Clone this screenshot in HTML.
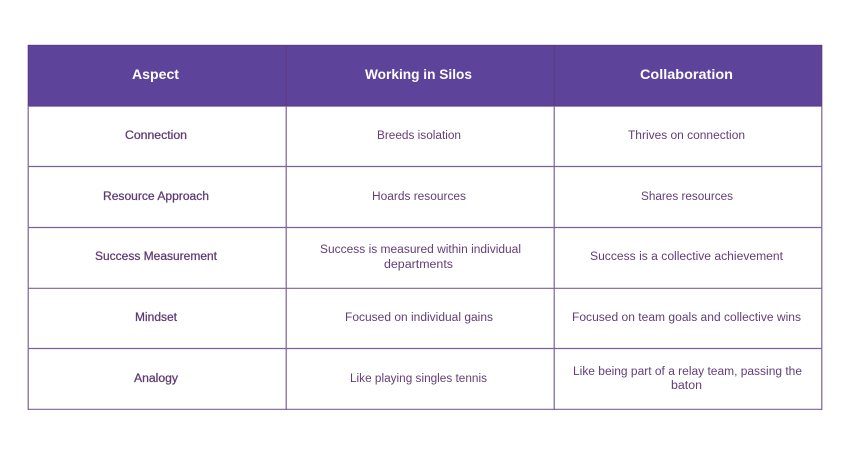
<!DOCTYPE html>
<html><head><meta charset="utf-8">
<style>
html,body{margin:0;padding:0;background:#fff;width:850px;height:450px;overflow:hidden}
svg{display:block}
text{font-family:"Liberation Sans",sans-serif;text-anchor:start}
.h{font-size:14px;font-weight:700;fill:#fff}
.b{font-size:11.5px;fill:#633d78}
.s{font-size:11.5px;fill:#5e3a74;stroke:#5e3a74;stroke-width:.25px}
</style></head><body>
<svg width="850" height="450" viewBox="0 0 850 450" xmlns="http://www.w3.org/2000/svg">
<rect width="850" height="450" fill="#fff"/>
<rect x="28" y="45" width="794" height="61" fill="#5e439a"/>
<g stroke="#5f3a7f" stroke-width="1.2" fill="none" opacity=".8">
<line x1="28.2" y1="45" x2="28.2" y2="410"/>
<line x1="286.2" y1="45" x2="286.2" y2="410"/>
<line x1="554.2" y1="45" x2="554.2" y2="410"/>
<line x1="821.8" y1="45" x2="821.8" y2="410"/>
<line x1="28" y1="45.3" x2="822" y2="45.3"/>
<line x1="28" y1="106.2" x2="822" y2="106.2"/>
<line x1="28" y1="166.5" x2="822" y2="166.5"/>
<line x1="28" y1="227.5" x2="822" y2="227.5"/>
<line x1="28" y1="288.3" x2="822" y2="288.3"/>
<line x1="28" y1="348.5" x2="822" y2="348.5"/>
<line x1="28" y1="409.3" x2="822" y2="409.3"/>
</g>
<text class="h" x="132" y="79" textLength="47" lengthAdjust="spacingAndGlyphs">Aspect</text>
<text class="h" x="365" y="79" textLength="107" lengthAdjust="spacingAndGlyphs">Working in Silos</text>
<text class="h" x="640" y="79" textLength="93" lengthAdjust="spacingAndGlyphs">Collaboration</text>

<text class="s" x="125" y="139" textLength="62" lengthAdjust="spacingAndGlyphs">Connection</text>
<text class="s" x="103" y="200" textLength="106" lengthAdjust="spacingAndGlyphs">Resource Approach</text>
<text class="s" x="95" y="260" textLength="122" lengthAdjust="spacingAndGlyphs">Success Measurement</text>
<text class="s" x="135" y="321" textLength="42" lengthAdjust="spacingAndGlyphs">Mindset</text>
<text class="s" x="134" y="382" textLength="44" lengthAdjust="spacingAndGlyphs">Analogy</text>

<text class="b" x="377" y="139" textLength="84" lengthAdjust="spacingAndGlyphs">Breeds isolation</text>
<text class="b" x="372" y="200" textLength="94" lengthAdjust="spacingAndGlyphs">Hoards resources</text>
<text class="b" x="320" y="253" textLength="201" lengthAdjust="spacingAndGlyphs">Success is measured within individual</text>
<text class="b" x="384" y="268" textLength="69" lengthAdjust="spacingAndGlyphs">departments</text>
<text class="b" x="345" y="321" textLength="148" lengthAdjust="spacingAndGlyphs">Focused on individual gains</text>
<text class="b" x="350" y="382" textLength="137" lengthAdjust="spacingAndGlyphs">Like playing singles tennis</text>

<text class="b" x="628" y="139" textLength="117" lengthAdjust="spacingAndGlyphs">Thrives on connection</text>
<text class="b" x="641" y="200" textLength="92" lengthAdjust="spacingAndGlyphs">Shares resources</text>
<text class="b" x="590" y="260" textLength="193" lengthAdjust="spacingAndGlyphs">Success is a collective achievement</text>
<text class="b" x="572" y="321" textLength="229" lengthAdjust="spacingAndGlyphs">Focused on team goals and collective wins</text>
<text class="b" x="573" y="375" textLength="229" lengthAdjust="spacingAndGlyphs">Like being part of a relay team, passing the</text>
<text class="b" x="671" y="389" textLength="31" lengthAdjust="spacingAndGlyphs">baton</text>
</svg>
</body></html>
